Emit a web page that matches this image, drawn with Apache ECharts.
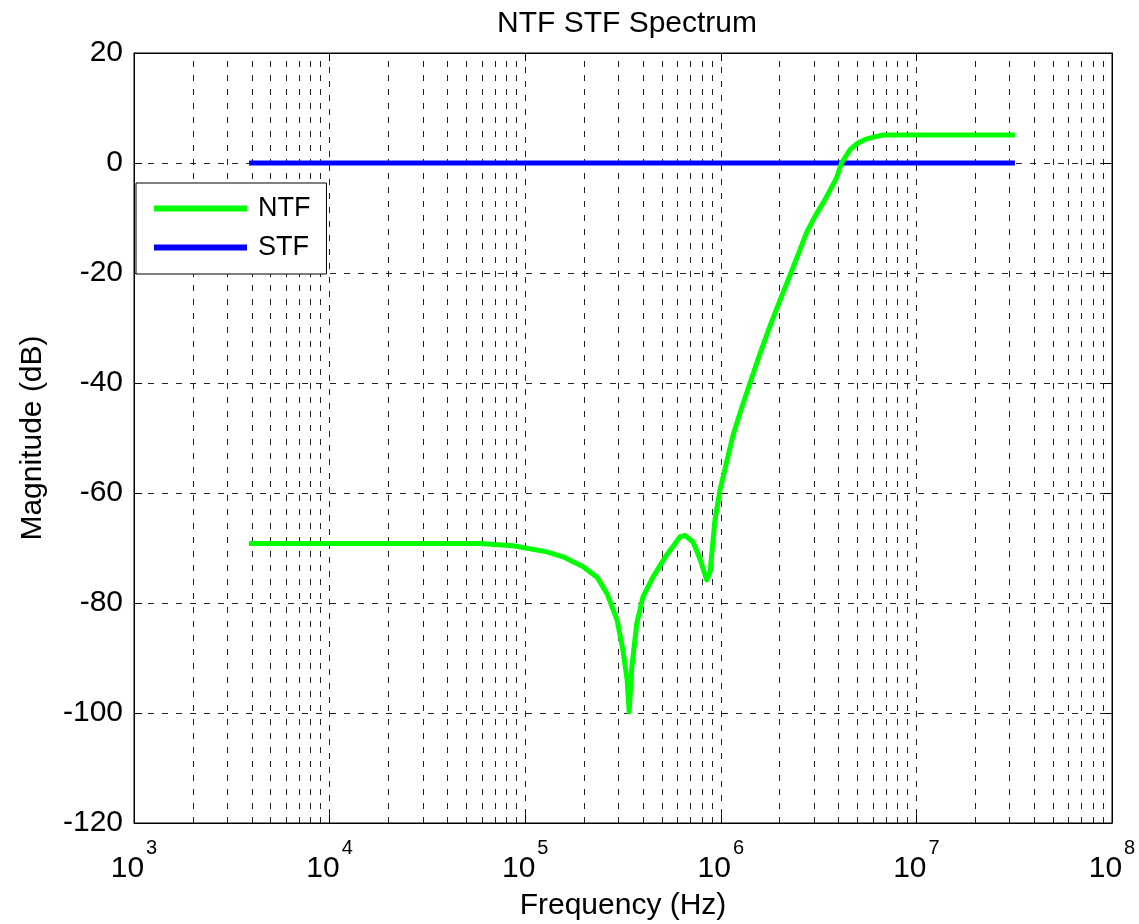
<!DOCTYPE html>
<html>
<head>
<meta charset="utf-8">
<title>NTF STF Spectrum</title>
<script src="https://cdn.jsdelivr.net/npm/echarts@6/dist/echarts.min.js"></script>
<style>
  body { margin: 0; background: #fff; }
  #main { width: 1139px; height: 924px; }
</style>
</head>
<body>
<div id="main"></div>
<script>
// 数据
var ntfFreq = [3870, 10000, 30000, 58700, 60000, 86700, 129000, 156000, 198000, 233000,
    262000, 295000, 316000, 332000, 340000, 351000, 372000, 400000, 450000, 528000,
    618000, 656000, 721000, 783000, 847000, 881000, 933000, 990000, 1072000, 1159000,
    1279000, 1413000, 1585000, 1778000, 1995000, 2259000, 2512000, 2748000, 3020000,
    3342000, 3648000, 3917000, 4140000, 4571000, 4955000, 5495000, 6026000,
    6776000, 10000000, 31900000];
var ntfDb = [-69.2, -69.2, -69.2, -69.2, -69.5, -69.6, -70.7, -71.6, -73.4, -75.3,
    -78.3, -83.1, -88.6, -94.0, -99.8, -91.6, -83.7, -78.9, -75.3, -71.3,
    -68.0, -67.7, -68.9, -72.0, -75.8, -74.4, -65.0, -59.5, -54.3, -49.3,
    -44.5, -39.9, -34.7, -29.8, -25.2, -20.4, -16.2, -12.6, -9.8,
    -7.2, -4.7, -2.6, 0.0, 2.4, 3.5, 4.3, 4.7,
    5.1, 5.1, 5.1];
var stfFreq = [3870, 31900000];
var stfDb = [0, 0];
var seriesNames = ['NTF', 'STF'];
var yTicks = [-120, -100, -80, -60, -40, -20, 0, 20];

// 对数轴的次网格线 2..9 x 10^n
var minorGrid = [];
for (var d = 3; d < 8; d++) {
    for (var k = 2; k <= 9; k++) {
        minorGrid.push({ xAxis: k * Math.pow(10, d) });
    }
}

function pairs(xs, ys) {
    var out = [];
    for (var i = 0; i < xs.length; i++) out.push([xs[i], ys[i]]);
    return out;
}

var font = 'Liberation Sans, Arial, sans-serif';
var gridLine = { color: '#222', width: 1, type: [6, 8] };

var myChart = echarts.init(document.getElementById('main'));
var option = {
    backgroundColor: '#fff',
    animation: false,
    title: {
        text: 'NTF STF Spectrum',
        left: 622,
        top: 4,
        textAlign: 'center',
        textStyle: { fontFamily: font, fontSize: 30, fontWeight: 'normal', color: '#000' }
    },
    legend: {
        data: seriesNames,
        orient: 'vertical',
        left: 136,
        top: 183,
        padding: [12, 16, 13, 18],
        itemGap: 12,
        itemWidth: 93,
        itemHeight: 6,
        icon: 'rect',
        backgroundColor: '#fff',
        borderColor: '#000',
        borderWidth: 1,
        borderRadius: 0,
        textStyle: { fontFamily: font, fontSize: 27, color: '#000', padding: [0, 0, 0, 6] }
    },
    grid: {
        left: 134, right: 27, top: 53, bottom: 101,
        outerBoundsMode: 'none',
        containLabel: false,
        show: true, borderColor: '#000', borderWidth: 1
    },
    xAxis: [{
        type: 'log',
        logBase: 10,
        min: 1e3,
        max: 1e8,
        name: 'Frequency (Hz)',
        nameLocation: 'middle',
        nameGap: 68,
        nameTextStyle: { fontFamily: font, fontSize: 30, color: '#000' },
        axisLine: { onZero: false, lineStyle: { color: '#000', width: 1 } },
        axisTick: { inside: true, length: 8, lineStyle: { color: '#000' } },
        axisLabel: {
            margin: 15,
            formatter: function (v) {
                var e = Math.round(Math.log(v) / Math.LN10);
                return '{b|10}{s|' + e + '}';
            },
            rich: {
                b: { fontFamily: font, fontSize: 30, color: '#000', padding: [16, 0, 0, 0] },
                s: { fontFamily: font, fontSize: 20, color: '#000', verticalAlign: 'top', padding: [0, 0, 0, 2] }
            }
        },
        splitLine: { show: true, lineStyle: gridLine }
    }, {
        type: 'log',
        logBase: 10,
        min: 1e3,
        max: 1e8,
        position: 'top',
        axisLine: { onZero: false, lineStyle: { color: '#000' } },
        axisTick: { inside: true, length: 8, lineStyle: { color: '#000' } },
        axisLabel: { show: false },
        splitLine: { show: false }
    }],
    yAxis: [{
        type: 'value',
        min: yTicks[0],
        max: yTicks[yTicks.length - 1],
        interval: 20,
        name: 'Magnitude (dB)',
        nameLocation: 'middle',
        nameGap: 86,
        nameRotate: 90,
        nameTextStyle: { fontFamily: font, fontSize: 30, color: '#000' },
        axisLine: { show: true, onZero: false, lineStyle: { color: '#000', width: 1 } },
        axisTick: { show: true, inside: true, length: 8, lineStyle: { color: '#000' } },
        axisLabel: { margin: 11, fontFamily: font, fontSize: 30, color: '#000' },
        splitLine: { show: true, lineStyle: gridLine }
    }, {
        type: 'value',
        min: yTicks[0],
        max: yTicks[yTicks.length - 1],
        interval: 20,
        position: 'right',
        axisLine: { show: true, onZero: false, lineStyle: { color: '#000' } },
        axisTick: { show: true, inside: true, length: 8, lineStyle: { color: '#000' } },
        axisLabel: { show: false },
        splitLine: { show: false }
    }],
    series: [{
        name: 'STF',
        type: 'line',
        data: pairs(stfFreq, stfDb),
        showSymbol: false,
        symbol: 'none',
        color: '#0000ff',
        lineStyle: { color: '#0000ff', width: 5 },
        z: 3,
        markLine: {
            silent: true,
            symbol: ['none', 'none'],
            label: { show: false },
            lineStyle: gridLine,
            data: minorGrid,
            z: 1
        }
    }, {
        name: 'NTF',
        type: 'line',
        data: pairs(ntfFreq, ntfDb),
        showSymbol: false,
        symbol: 'none',
        color: '#00ff00',
        lineStyle: { color: '#00ff00', width: 5, join: 'round' },
        z: 4
    }]
};
myChart.setOption(option);
</script>
</body>
</html>
